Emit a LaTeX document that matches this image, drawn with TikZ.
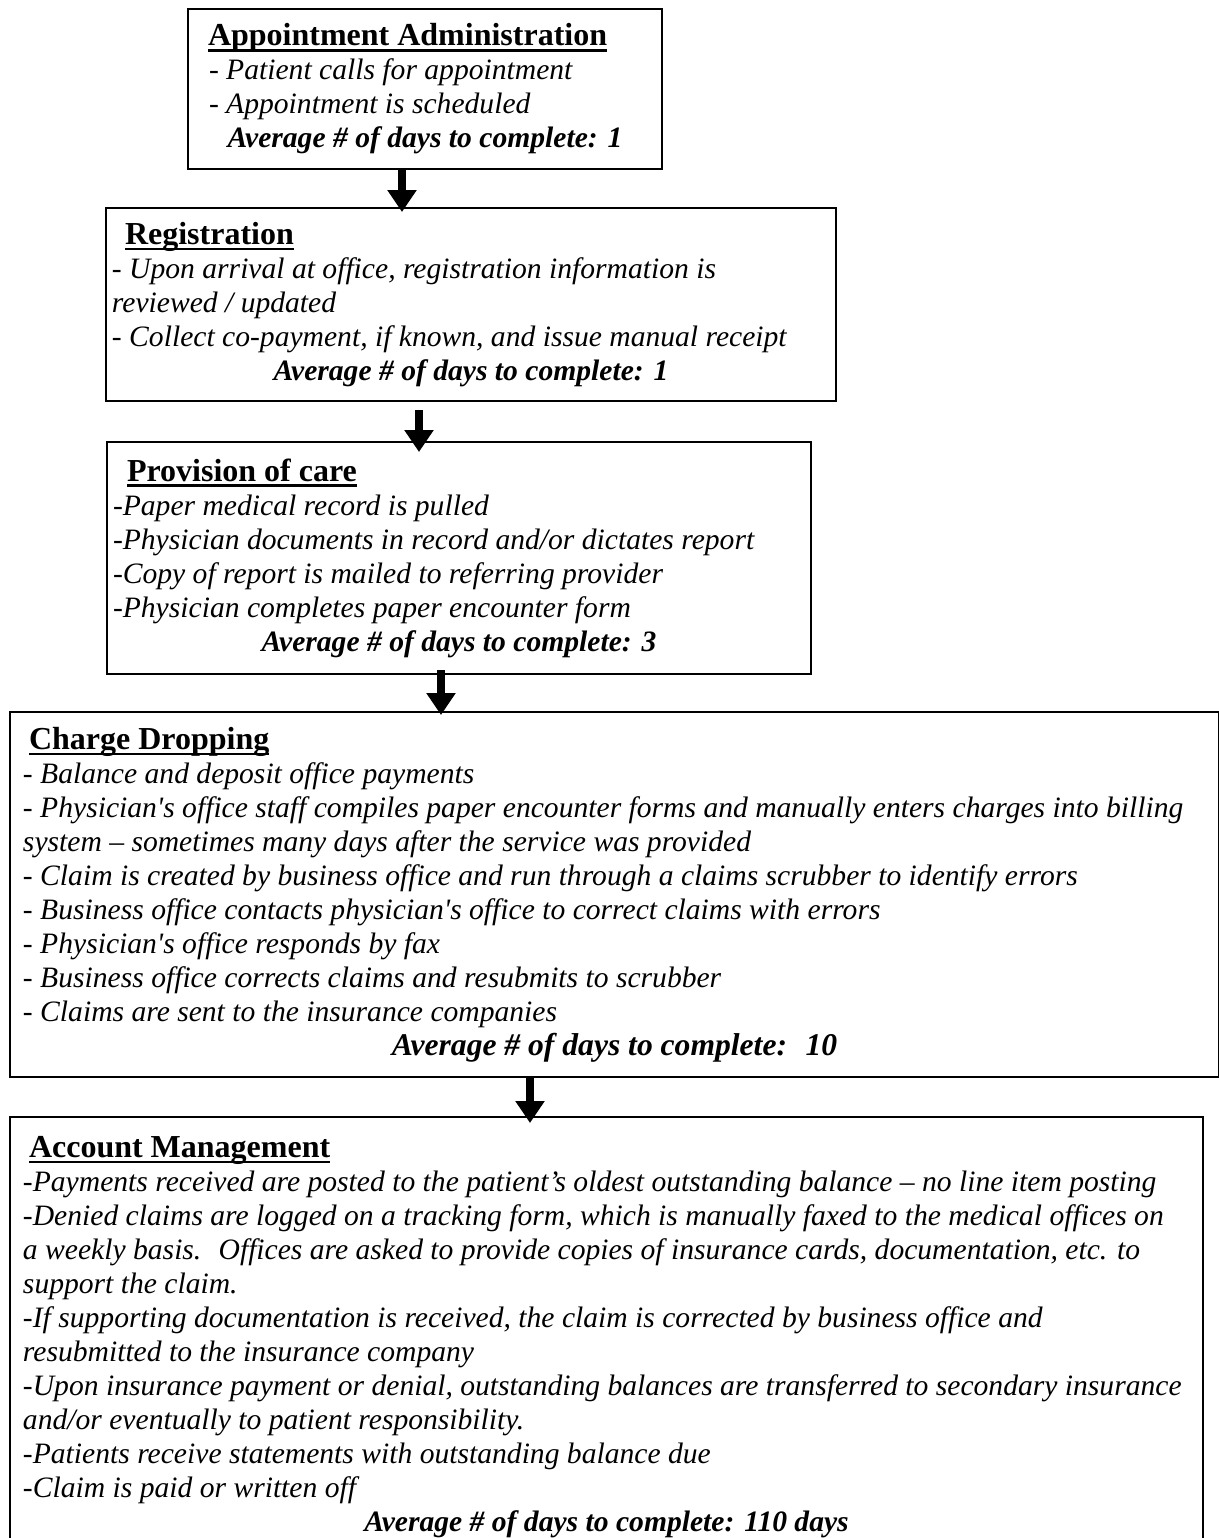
\documentclass[tikz,border=0pt]{standalone}
\usepackage{fontspec}
\setmainfont{Liberation Serif}
\usetikzlibrary{positioning,arrows.meta}

\tikzstyle{stepbox}=[%
      rectangle, draw=black, line width=1pt, fill=none, anchor=north west,
      align=left, inner ysep=0pt, font=\fontsize{14.8}{17}\selectfont\itshape
]
\tikzstyle{flow}=[%
      line width=4pt, -{Triangle[width=14pt,length=11pt]}
]
% #1 = width of the text block, #2 = indent, #3 = heading
\newcommand{\boxhead}[3]{\makebox[#1][l]{\hspace*{#2}{\upshape\bfseries\fontsize{16}{17}\selectfont\setbox0\hbox{#3}\rlap{\rule[-2.8pt]{\wd0}{1.1pt}}\box0}}}
% #1 = width of the text block, #2 = closing line
\newcommand{\avgline}[2]{\makebox[#1][c]{\bfseries #2}}

\begin{document}
\begin{tikzpicture}[x=0.5pt,y=-0.5pt]
    \useasboundingbox (0,0) rectangle (1219,1538);
    \clip (0,0) rectangle (1219,1538);

    \node[stepbox, inner xsep=10.5pt, minimum height=80pt] (apt) at (187,8)
      {\boxhead{216pt}{-0.5pt}{Appointment Administration}\\
       - Patient calls for appointment\\
       - Appointment is scheduled\\
       \avgline{216pt}{Average \# of days to complete: 1}};

    \node[stepbox, inner xsep=3pt, minimum height=96.5pt] (reg) at (105,207)
      {\boxhead{359pt}{6.5pt}{Registration}\\
       - Upon arrival at office, registration information is\\
       reviewed / updated\\
       - Collect co-payment, if known, and issue manual receipt\\
       \avgline{359pt}{Average \# of days to complete: 1}};

    \node[stepbox, inner xsep=3pt, minimum height=116pt] (care) at (106,441)
      {\boxhead{346pt}{7pt}{Provision of care}\\
       -Paper medical record is pulled\\
       -Physician documents in record and/or dictates report\\
       -Copy of report is mailed to referring provider\\
       -Physician completes paper encounter form\\
       \avgline{346pt}{Average \# of days to complete: 3}};

    \node[stepbox, inner xsep=6.5pt, minimum height=182.5pt] (chg) at (9,711)
      {\boxhead{591.5pt}{3pt}{Charge Dropping}\\
       - Balance and deposit office payments\\
       - Physician\textquotesingle s office staff compiles paper encounter forms and manually enters charges into billing\\
       system – sometimes many days after the service was provided\\
       - Claim is created by business office and run through a claims scrubber to identify errors\\
       - Business office contacts physician\textquotesingle s office to correct claims with errors\\
       - Physician\textquotesingle s office responds by fax\\
       - Business office corrects claims and resubmits to scrubber\\
       - Claims are sent to the insurance companies\\
       \avgline{591.5pt}{\fontsize{15.8}{17}\selectfont Average \# of days to complete: \ 10}};

    \node[stepbox, inner xsep=6.5pt, minimum height=220pt] (acct) at (9,1116)
      {\boxhead{583.5pt}{3pt}{Account Management}\\
       -Payments received are posted to the patient’s oldest outstanding balance – no line item posting\\
       -Denied claims are logged on a tracking form, which is manually faxed to the medical offices on\\
       a weekly basis. \ Offices are asked to provide copies of insurance cards, documentation, etc. to\\
       support the claim.\\
       -If supporting documentation is received, the claim is corrected by business office and\\
       resubmitted to the insurance company\\
       -Upon insurance payment or denial, outstanding balances are transferred to secondary insurance\\
       and/or eventually to patient responsibility.\\
       -Patients receive statements with outstanding balance due\\
       -Claim is paid or written off\\
       \avgline{583.5pt}{Average \# of days to complete: 110 days}};

    % arrows between the stages
    \draw[flow, shorten >=-2.5pt] (apt.south -| 402,0) -- (reg.north -| 402,0);
    \draw[flow, shorten <=4pt, shorten >=-5.5pt] (reg.south -| 419,0) -- (care.north -| 419,0);
    \draw[flow, shorten <=-2.5pt, shorten >=-2pt] (care.south -| 441,0) -- (chg.north -| 441,0);
    \draw[flow, shorten >=-3.5pt] (chg.south -| 530,0) -- (acct.north -| 530,0);
\end{tikzpicture}
\end{document}
